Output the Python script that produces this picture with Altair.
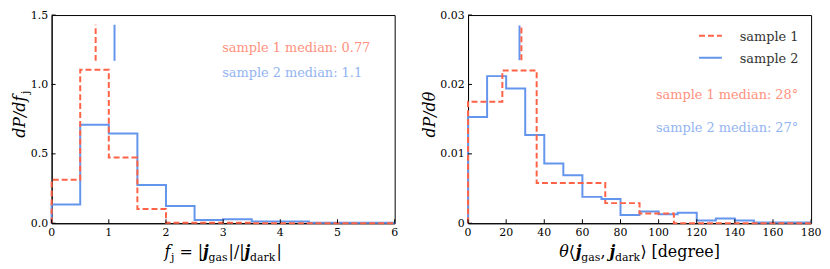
import altair as alt
import pandas as pd

FONT = "DejaVu Serif"
RED = "#ff6347"
BLUE = "#6495ed"
RED_T = "#ff917e"
BLUE_T = "#92b4f2"
W, H = 346, 210

# ---------------- data: left panel (f_j) ----------------
fj_edges = [0, 0.5, 1, 1.5, 2, 2.5, 3, 3.5, 4, 4.5, 5, 5.5, 6]
fj_sample1 = [0.313, 1.106, 0.473, 0.103, 0.004, 0.004, 0.004, 0.0, 0.0, 0.0, 0.0, 0.0]
fj_sample2 = [0.135, 0.71, 0.647, 0.275, 0.124, 0.024, 0.029, 0.012, 0.012, 0.004, 0.004, 0.004]
fj_medians = [0.77, 1.1]
fj_median_labels = ["0.77", "1.1"]
fj_median_span = [1.17, 1.43]
fj_xticks = [0, 1, 2, 3, 4, 5, 6]
fj_xlabels = ["0", "1", "2", "3", "4", "5", "6"]
fj_yticks = [0.0, 0.5, 1.0, 1.5]

# ---------------- data: right panel (theta) ----------------
th_edges1 = [0, 18, 36, 54, 72, 90, 108, 126, 144, 162, 180]
th_sample1 = [0.0175, 0.0220, 0.0058, 0.0058, 0.0029, 0.0014, 0.0, 0.0, 0.0, 0.0]
th_edges2 = [0, 10, 20, 30, 40, 50, 60, 70, 80, 90, 100, 110, 120, 130, 140, 150, 160, 170, 180]
th_sample2 = [0.0153, 0.0212, 0.0194, 0.0127, 0.0086, 0.0069, 0.0038, 0.0035, 0.0012,
              0.0017, 0.0013, 0.0015, 0.0004, 0.0007, 0.0004, 0.0001, 0.0001, 0.0001]
th_medians = [28, 27]
th_median_labels = ["28°", "27°"]
th_median_span = [0.0235, 0.0285]
th_xticks = [0, 20, 40, 60, 80, 100, 120, 140, 160, 180]
th_xlabels = ["0", "20", "40", "60", "80", "100", "120", "140", "160", "180"]
th_yticks = [0.0, 0.01, 0.02, 0.03]

series_names = ["sample 1", "sample 2"]


def step_table(edges, vals):
    xs = [edges[0]]
    ys = [0.0]
    for e, v in zip(edges[:-1], vals):
        xs.append(e)
        ys.append(v)
    xs += [edges[-1], edges[-1]]
    ys += [vals[-1], 0.0]
    return pd.DataFrame({"x": xs, "y": ys, "i": list(range(len(xs)))})


CW = {'|': 0.337, '/': 0.337, '=': 0.838, ',': 0.318, '[': 0.39, ']': 0.39,
      'a': 0.596, 'd': 0.64, 'e': 0.592, 'g': 0.64, 'k': 0.62, 'r': 0.478, 's': 0.513,
      'f': 0.35, 'j': 0.32, 'P': 0.733, 'θ': 0.6, '⟨': 0.39, '⟩': 0.39}


def tw(t, size, weight="normal"):
    if t == "":
        return size  # pure gap in pixels
    w = sum(CW.get(c, 0.6) for c in t) * size
    return w * (1.08 if weight == "bold" else 1.0)


def composite(segs, x, y, angle=0):
    total = sum(tw(t, s, wt) for t, s, st, wt, dy in segs)
    off = -total / 2
    layers = []
    for t, s, st, wt, dy in segs:
        if t != "":
            layers.append(
                alt.Chart(pd.DataFrame({"t": [t]})).mark_text(
                    font=FONT, fontSize=s, fontStyle=st, fontWeight=wt, align="left",
                    baseline="alphabetic", dx=off, dy=dy, angle=angle, color="black"
                ).encode(x=alt.value(x), y=alt.value(y), text="t:N")
            )
        off += tw(t, s, wt)
    return layers


def panel(edges1, s1, edges2, s2, xdom, ydom, xticks, xlabels, yticks, yfmt_expr,
          medians, mspan, texts, text_x, text_y, text_align, xtitle, ytitle, ytitle_x, legend):
    xs = alt.Scale(domain=xdom, nice=False, zero=False)
    ys = alt.Scale(domain=ydom, nice=False, zero=False)
    xax = alt.Axis(values=xticks, title=None, ticks=False, grid=False, labels=False)
    yax = alt.Axis(values=yticks, title=None, ticks=False, grid=False, labelPadding=4,
                   labelOverlap=False, labelExpr=yfmt_expr)

    blue = alt.Chart(step_table(edges2, s2)).mark_line(
        interpolate="step-after", color=BLUE, strokeWidth=2
    ).encode(x=alt.X("x:Q", scale=xs, axis=xax), y=alt.Y("y:Q", scale=ys, axis=yax),
             order="i:Q")
    red = alt.Chart(step_table(edges1, s1)).mark_line(
        interpolate="step-after", color=RED, strokeWidth=2, strokeDash=[6, 3]
    ).encode(x="x:Q", y="y:Q", order="i:Q")

    med_blue = alt.Chart(pd.DataFrame({"x": [medians[1]], "y": [mspan[0]], "y2": [mspan[1]]})).mark_rule(
        color=BLUE, strokeWidth=2).encode(x="x:Q", y="y:Q", y2="y2:Q")
    med_red = alt.Chart(pd.DataFrame({"x": [medians[0]], "y": [mspan[0]], "y2": [mspan[1]]})).mark_rule(
        color=RED, strokeWidth=2, strokeDash=[6, 3]).encode(x="x:Q", y="y:Q", y2="y2:Q")

    xdf = pd.DataFrame({"x": xticks, "lab": xlabels})
    xt = alt.Chart(xdf).mark_rule(color="black", strokeWidth=1).encode(
        x="x:Q", y=alt.value(H), y2=alt.value(H - 4))
    xl = alt.Chart(xdf).mark_text(font=FONT, fontSize=11, color="black", baseline="top",
                                  align="center").encode(
        x="x:Q", y=alt.value(H + 4), text="lab:N")
    yt = alt.Chart(pd.DataFrame({"y": yticks})).mark_rule(color="black", strokeWidth=1).encode(
        y="y:Q", x=alt.value(0), x2=alt.value(4))

    layers = [blue, red, med_blue, med_red, xt, xl, yt]
    for t, c, ty in zip(texts, [RED_T, BLUE_T], text_y):
        layers.append(alt.Chart(pd.DataFrame({"t": [t]})).mark_text(
            font=FONT, fontSize=13, align=text_align, baseline="alphabetic", color=c
        ).encode(x=alt.value(text_x), y=alt.value(ty), text="t:N"))

    if legend:
        for name, c, dash, ly in zip(series_names, [RED, BLUE], [[6, 3], [1, 0]], [21, 43]):
            layers.append(alt.Chart(pd.DataFrame({"t": [name]})).mark_rule(
                color=c, strokeWidth=2, strokeDash=dash
            ).encode(x=alt.value(233), x2=alt.value(256), y=alt.value(ly)))
            layers.append(alt.Chart(pd.DataFrame({"t": [name]})).mark_text(
                font=FONT, fontSize=13, align="left", baseline="middle", color="#333333"
            ).encode(x=alt.value(274), y=alt.value(ly + 1), text="t:N"))

    layers += composite(xtitle, W / 2, H + 34)
    layers += composite(ytitle, ytitle_x, 100, angle=270)
    return alt.layer(*layers).properties(width=W, height=H)


sub = 11
R = ("normal", "normal", 0)
left = panel(
    fj_edges, fj_sample1, fj_edges, fj_sample2, [0, 6], [0, 1.5], fj_xticks, fj_xlabels, fj_yticks,
    "format(datum.value, '.1f')", fj_medians, fj_median_span,
    [f"sample {i + 1} median: {m}" for i, m in enumerate(fj_median_labels)], 172, [37, 62], "left",
    [("f", 16, "italic", "normal", 0), ("", 1, *R), ("j", sub, "normal", "normal", 4), ("", 5, *R),
     ("=", 16, *R), ("", 5, *R), ("|", 16, *R),
     ("j", 16, "italic", "bold", 0), ("gas", sub, "normal", "normal", 4), ("", 1, *R),
     ("|/|", 16, *R),
     ("j", 16, "italic", "bold", 0), ("dark", sub, "normal", "normal", 4), ("", 1, *R), ("|", 16, *R)],
    [("dP/df", 16, "italic", "normal", 0), ("", 1, *R), ("j", sub, "normal", "normal", 4)], -27, False,
)
right = panel(
    th_edges1, th_sample1, th_edges2, th_sample2, [0, 180], [0, 0.03], th_xticks, th_xlabels, th_yticks,
    "datum.value == 0 ? '0' : format(datum.value, '.2f')", th_medians, th_median_span,
    [f"sample {i + 1} median: {m}" for i, m in enumerate(th_median_labels)], 333, [85, 118], "right",
    [("θ", 16, "italic", "normal", 0), ("⟨", 16, *R), ("", 1, *R), ("j", 16, "italic", "bold", 0),
     ("gas", sub, "normal", "normal", 4), (",", 16, *R), ("", 4, *R), ("j", 16, "italic", "bold", 0),
     ("dark", sub, "normal", "normal", 4), ("⟩", 16, *R), ("", 5, *R), ("[degree]", 16, *R)],
    [("dP/dθ", 16, "italic", "normal", 0)], -33, True,
)

chart = alt.hconcat(left, right, spacing=22).properties(
    padding={"left": 3, "top": -1, "right": 0, "bottom": 0}
).configure_axis(
    labelFont=FONT, labelFontSize=11, labelColor="black", domainColor="black", domainWidth=1,
    labelOverlap=False
).configure_view(stroke="black", strokeWidth=1)

chart.save("out.html", embed_options={"renderer": "svg", "actions": False})
